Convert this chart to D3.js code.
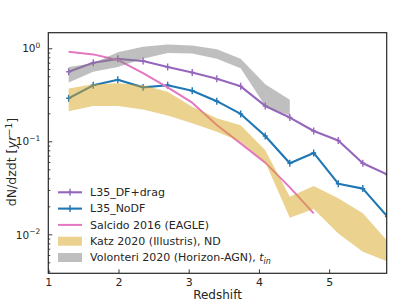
<!DOCTYPE html>
<html>
<head>
<meta charset="utf-8">
<script src="https://cdnjs.cloudflare.com/ajax/libs/d3/7.8.5/d3.min.js"></script>
<style>
  body { margin: 0; background: #fff; }
  text { font-family: "DejaVu Sans", sans-serif; fill: #262626; }
</style>
</head>
<body>
<div id="chart"></div>
<script>
// redshift bins
var redshift = [1.29, 1.64, 1.99, 2.35, 2.70, 3.05, 3.40, 3.74, 4.09, 4.44, 4.78, 5.13, 5.48, 5.83];
// dN/dzdt series
var dfDrag  = [0.56, 0.70, 0.77, 0.73, 0.63, 0.55, 0.47, 0.39, 0.24, 0.18, 0.129, 0.102, 0.058, 0.044];
var noDF    = [0.29, 0.40, 0.46, 0.38, 0.40, 0.35, 0.27, 0.197, 0.114, 0.058, 0.075, 0.035, 0.031, 0.0155];
var salcido = [0.92, 0.86, 0.75, 0.54, 0.38, 0.26, 0.15, 0.095, 0.059, 0.032, 0.0168];
var katzHi  = [0.37, 0.41, 0.42, 0.40, 0.34, 0.235, 0.177, 0.149, 0.080, 0.0254, 0.033, 0.0244, 0.0168, 0.0085];
var katzLo  = [0.21, 0.24, 0.24, 0.22, 0.19, 0.156, 0.127, 0.099, 0.060, 0.0151, 0.0187, 0.0102, 0.0065, 0.0051];
var volHi   = [0.63, 0.69, 0.905, 1.04, 1.10, 1.07, 0.975, 0.77, 0.41, 0.28];
var volLo   = [0.43, 0.56, 0.63, 0.77, 0.89, 0.88, 0.77, 0.61, 0.24, 0.19];

var xTicks = [1, 2, 3, 4, 5];
var yTicks = [1, 0.1, 0.01];
var yTickExp = ["0", "\u22121", "\u22122"];
var legendLabels = ["L35_DF+drag", "L35_NoDF", "Salcido 2016 (EAGLE)", "Katz 2020 (Illustris), ND", "Volonteri 2020 (Horizon-AGN), "];

var W = 407, H = 305;
var pL = 48.3, pR = 386.7, pT = 32.7, pB = 273.3;

var svg = d3.select("#chart").append("svg")
    .attr("width", W).attr("height", H);

svg.append("defs").append("clipPath").attr("id", "clip")
  .append("rect").attr("x", pL).attr("y", pT)
  .attr("width", pR - pL).attr("height", pB - pT);

var x = d3.scaleLinear().domain([1, 5.82]).range([pL, pR]);
var y = d3.scaleLog().domain([0.00381, 1.471]).range([pB, pT]);

var purple = "#9467bd", blue = "#1f77b4", pink = "#e377c2";
var gold = "#daa520", grey = "#808080";

var plot = svg.append("g").attr("clip-path", "url(#clip)");

function series(vals) {
  return vals.map(function(v, i) { return [redshift[i], v]; });
}
var line = d3.line().x(function(d) { return x(d[0]); }).y(function(d) { return y(d[1]); });

// small "+" marker
function plus(g, cx, cy, col) {
  g.append("path")
    .attr("d", "M" + cx + "," + (cy - 3.5) + "V" + (cy + 3.5) + "M" + (cx - 2.5) + "," + cy + "H" + (cx + 2.5))
    .attr("stroke", col).attr("stroke-width", 1.4).attr("fill", "none");
}

function drawLine(vals, col, lw, markers) {
  var pts = series(vals);
  plot.append("path").datum(pts)
    .attr("d", line).attr("fill", "none")
    .attr("stroke", col).attr("stroke-width", lw)
    .attr("stroke-linejoin", "round");
  if (markers) {
    pts.forEach(function(d) { plus(plot, x(d[0]), y(d[1]), col); });
  }
}

drawLine(dfDrag, purple, 2.1, true);
drawLine(noDF, blue, 2.1, true);
drawLine(salcido, pink, 2, false);

var area = d3.area()
  .x(function(d) { return x(d.z); })
  .y0(function(d) { return y(d.lo); })
  .y1(function(d) { return y(d.hi); });

var katz = katzHi.map(function(v, i) { return {z: redshift[i], hi: v, lo: katzLo[i]}; });
var vol = volHi.map(function(v, i) { return {z: redshift[i], hi: v, lo: volLo[i]}; });

plot.append("path").datum(katz).attr("d", area)
  .attr("fill", gold).attr("fill-opacity", 0.5);
plot.append("path").datum(vol).attr("d", area)
  .attr("fill", grey).attr("fill-opacity", 0.5);

// axes
var xAxis = svg.append("g")
  .attr("transform", "translate(0," + pB + ")")
  .call(d3.axisBottom(x).tickValues(xTicks).tickSize(-4).tickPadding(5).tickFormat(d3.format("d")));
xAxis.select(".domain").remove();
xAxis.selectAll("text").attr("font-size", 11).attr("fill", "#262626");

var minor = [];
[0.001, 0.01, 0.1, 1].forEach(function(dec) {
  for (var k = 2; k <= 9; k++) {
    var v = dec * k;
    if (v >= 0.00381 && v <= 1.471) minor.push(v);
  }
});
svg.append("g").attr("transform", "translate(" + pL + ",0)")
  .call(d3.axisLeft(y).tickValues(minor).tickSize(-2).tickFormat(""))
  .select(".domain").remove();

var yAxis = svg.append("g")
  .attr("transform", "translate(" + pL + ",0)")
  .call(d3.axisLeft(y).tickValues(yTicks).tickSize(-4).tickPadding(8).tickFormat(""));
yAxis.select(".domain").remove();
yAxis.selectAll(".tick").each(function(d, i) {
  var t = d3.select(this).select("text")
    .attr("font-size", 10.5).attr("fill", "#262626").attr("dy", "0.35em").attr("x", -8);
  t.append("tspan").text("10");
  t.append("tspan").attr("font-size", 7.5).attr("dy", "-0.55em").text(yTickExp[i]);
});
svg.selectAll(".tick line").attr("stroke", "#262626").attr("stroke-width", 0.9);

svg.append("rect").attr("x", pL).attr("y", pT)
  .attr("width", pR - pL).attr("height", pB - pT)
  .attr("fill", "none").attr("stroke", "#262626").attr("stroke-width", 1.2);

// labels
svg.append("text").attr("x", (pL + pR) / 2).attr("y", 299)
  .attr("text-anchor", "middle").attr("font-size", 12).text("Redshift");

var yl = svg.append("text")
  .attr("transform", "translate(16," + 162 + ") rotate(-90)")
  .attr("text-anchor", "middle").attr("font-size", 12.5);
yl.append("tspan").text("dN/dzdt [");
yl.append("tspan").attr("font-style", "italic").text("yr");
yl.append("tspan").attr("font-size", 9).attr("dy", "-0.5em").text("\u22121");
yl.append("tspan").attr("dy", "0.42em").text("]");

// legend
var lg = svg.append("g");
var ly0 = 192.3, ldy = 16.3;
legendLabels.forEach(function(lab, i) {
  var yy = ly0 + i * ldy;
  if (i < 3) {
    var col = [purple, blue, pink][i];
    lg.append("line").attr("x1", 58).attr("x2", 82).attr("y1", yy).attr("y2", yy)
      .attr("stroke", col).attr("stroke-width", i < 2 ? 2.1 : 2);
    if (i < 2) plus(lg, 70, yy, col);
  } else {
    lg.append("rect").attr("x", 58).attr("y", yy - 4.5).attr("width", 24).attr("height", 9)
      .attr("fill", i === 3 ? gold : grey).attr("fill-opacity", 0.5);
  }
  var t = lg.append("text").attr("x", 90).attr("y", yy).attr("dy", "0.35em")
    .attr("font-size", 11).text(lab);
  if (i === 4) {
    t.append("tspan").attr("font-style", "italic").text("t");
    t.append("tspan").attr("font-style", "italic").attr("font-size", 8).attr("dy", "0.3em").text("in");
  }
});
</script>
</body>
</html>
